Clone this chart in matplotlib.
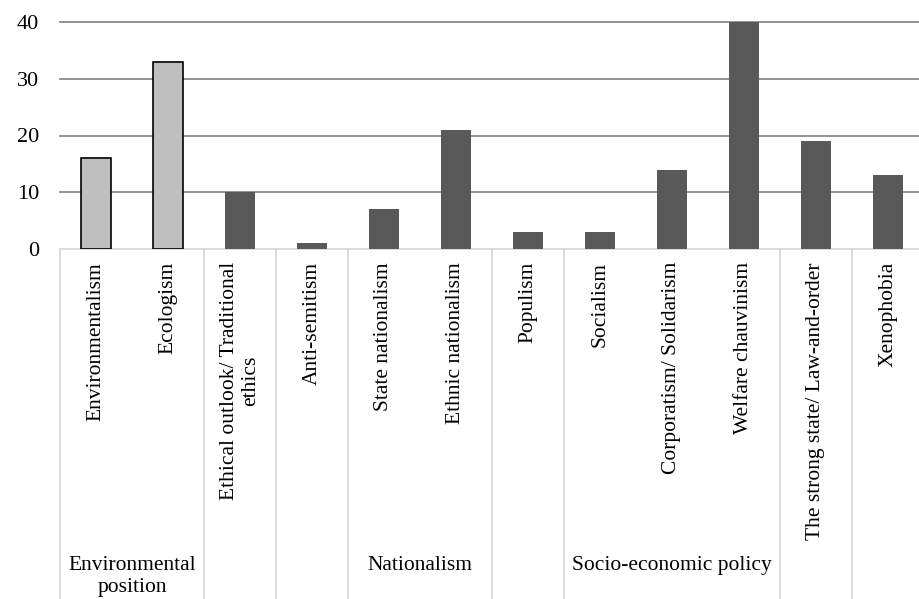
import matplotlib
matplotlib.use("Agg")
import matplotlib.pyplot as plt
from matplotlib.transforms import blended_transform_factory

categories = ["Environmentalism", "Ecologism", "Ethical outlook/ Traditional\nethics",
              "Anti-semitism", "State nationalism", "Ethnic nationalism", "Populism",
              "Socialism", "Corporatism/ Solidarism", "Welfare chauvinism",
              "The strong state/ Law-and-order", "Xenophobia"]
values = [16, 33, 10, 1, 7, 21, 3, 3, 14, 40, 19, 13]
highlight = [True, True, False, False, False, False, False, False, False, False, False, False]
groups = [("Environmental\nposition", 0, 2), ("", 2, 3), ("", 3, 4), ("Nationalism", 4, 6),
          ("", 6, 7), ("Socio-economic policy", 7, 10), ("", 10, 11), ("", 11, 12)]
yticks = [0, 10, 20, 30, 40]

plt.rcParams['font.family'] = ['Liberation Serif', 'DejaVu Serif']
FS = 15.5
W, H = 920, 599
fig = plt.figure(figsize=(W / 100, H / 100), dpi=100)
left, right, top, bottom = 60, 924, 22, 249
ax = fig.add_axes([left / W, (H - bottom) / H, (right - left) / W, (bottom - top) / H])

x = [i + 0.5 for i in range(len(values))]
colors = ["#bfbfbf" if h else "#595959" for h in highlight]
edges = ["black" if h else "#595959" for h in highlight]
lws = [1.2 if h else 0 for h in highlight]
ax.bar(x, values, width=0.43, color=colors, edgecolor=edges, linewidth=lws, zorder=3)

ax.set_xlim(0, 12)
ax.set_ylim(0, 40)
ax.set_yticks(yticks)
ax.set_yticklabels([str(v) for v in yticks], fontsize=16)
ax.tick_params(axis='y', length=0, pad=15)
ax.set_xticks([])
for s in ["top", "right", "left"]:
    ax.spines[s].set_visible(False)
ax.spines["bottom"].set_color("#d9d9d9")
ax.spines["bottom"].set_linewidth(1.3)
for v in yticks[1:]:
    ax.axhline(v, color="#8a8a8a", lw=1.3, zorder=1, clip_on=False)

trans = blended_transform_factory(ax.transData, fig.transFigure)
y0 = (H - bottom) / H
bounds = sorted(set([g[1] for g in groups] + [g[2] for g in groups]))
for b in bounds:
    ax.plot([b, b], [y0, 0], transform=trans, color="#d9d9d9", lw=1.3, clip_on=False)

cat_top = (H - 262) / H
for xi, lab in zip(x, categories):
    ax.text(xi, cat_top, lab, transform=trans, rotation=90, ha="center", va="top",
            fontsize=FS, multialignment="center", linespacing=1.2)

grp_top = (H - 556) / H
for name, a, b in groups:
    if name:
        ax.text((a + b) / 2, grp_top, name, transform=trans, ha="center", va="top",
                fontsize=FS, multialignment="center", linespacing=1.2)

fig.savefig("out.png", dpi=100)
